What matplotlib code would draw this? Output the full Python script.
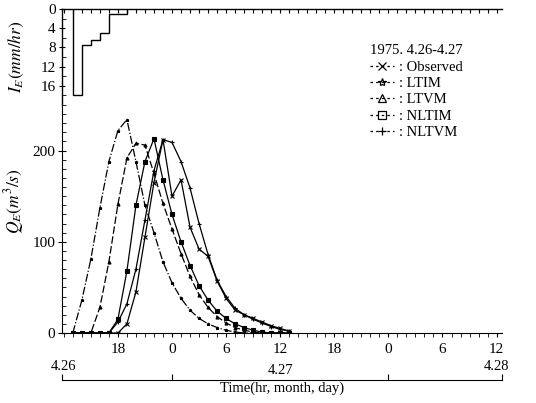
import matplotlib
matplotlib.use("Agg")
import matplotlib.pyplot as plt
from matplotlib.lines import Line2D
from matplotlib.ticker import MultipleLocator, FixedLocator

plt.rcParams['font.family'] = ['Liberation Serif', 'DejaVu Serif']
plt.rcParams['mathtext.fontset'] = 'stix'

# ---------------- data ----------------
# rainfall excess hyetograph (hours counted from 4.26 00:00)
rain_edges = [13, 14, 15, 16, 17, 19]
rain_values = [18, 7.5, 6.5, 5, 1]

hours = [13, 14, 15, 16, 17, 18, 19, 20, 21, 22, 23, 24, 25, 26, 27, 28,
         29, 30, 31, 32, 33, 34, 35, 36, 37]
q_observed = [0, 0, 0, 0, 0, 0, 10, 45, 105, 165, 212, 150, 168, 116, 92, 84,
              57, 38, 25, 20, 16, 12, 8, 5, 2]
q_ltim = [0, 36, 81, 137, 188, 222, 234, 188, 140, 110, 78, 55, 38, 25, 16, 10,
          6, 3, 1, 0, 0, 0, 0, 0, 0]
q_ltvm = [0, 0, 0, 28, 78, 141, 192, 208, 206, 175, 142, 114, 87, 62, 42, 28,
          18, 11, 6, 3, 1, 0, 0, 0, 0]
q_nltim = [0, 0, 0, 0, 0, 15, 68, 140, 188, 213, 168, 130, 100, 74, 52, 36,
           24, 16, 10, 6, 3, 1, 0, 0, 0]
q_nltvm = [0, 0, 0, 0, 0, 12, 32, 70, 124, 178, 212, 209, 188, 159, 120, 86,
           58, 40, 27, 20, 15, 11, 7, 4, 2]

xtick_pos = [18, 24, 30, 36, 42, 48, 54, 60]
xtick_labels = ['18', '0', '6', '12', '18', '0', '6', '12']
date_labels = ['4.26', '4.27', '4.28']
date_pos = [12, 36, 60]
legend_title = '1975. 4.26-4.27'
series_names = ['Observed', 'LTIM', 'LTVM', 'NLTIM', 'NLTVM']

# ---------------- figure ----------------
W, H = 536, 403
fig = plt.figure(figsize=(W / 100, H / 100), dpi=100)

def fx(px):
    return px / W

def fy(py):
    return 1 - py / H

L, R = 62, 502
xlim = (11.8, 60.6)

ax_r = fig.add_axes([fx(L), fy(105), fx(R - L), fy(9) - fy(105)])
ax_q = fig.add_axes([fx(L), fy(333), fx(R - L), fy(105) - fy(333)])
ax_d = fig.add_axes([fx(L), fy(380), fx(R - L), fy(355) - fy(380)])

lw = 0.9
# rainfall
ax_r.stairs(rain_values, rain_edges, baseline=0, color='k', lw=1.0)
ax_r.set_xlim(*xlim)
ax_r.set_ylim(20, 0)
for s in ['bottom', 'right']:
    ax_r.spines[s].set_visible(False)
ax_r.spines['top'].set_linewidth(1.0)
ax_r.spines['left'].set_linewidth(1.0)
ax_r.xaxis.set_ticks_position('top')
ax_r.xaxis.set_major_locator(MultipleLocator(1))
ax_r.tick_params(axis='x', which='both', direction='in', length=3, labeltop=False, labelbottom=False)
ax_r.set_yticks([0, 4, 8, 12, 16])
ax_r.yaxis.set_minor_locator(MultipleLocator(2))
ax_r.tick_params(axis='y', which='major', direction='inout', length=5, labelsize=11, pad=2)
ax_r.tick_params(axis='y', which='minor', direction='in', length=3)
ax_r.set_ylabel(r'$I_E(mm/hr)$', fontsize=12.5)
ax_r.yaxis.set_label_coords(-0.082, 0.5)

# discharge
styles = [
    (q_observed, 'x', '-'),
    (q_ltim, '*', '-.'),
    (q_ltvm, '^', (0, (6, 2))),
    (q_nltim, 's', '-'),
    (q_nltvm, '+', '-'),
]
for vals, mk, ls in styles:
    ax_q.plot(hours, vals, color='k', lw=lw, ls=ls, marker=mk, ms=2.2,
              mfc='k', mew=0.8)
ax_q.set_xlim(*xlim)
ax_q.set_ylim(0, 250)
for s in ['top', 'right']:
    ax_q.spines[s].set_visible(False)
ax_q.set_yticks([0, 100, 200])
ax_q.yaxis.set_minor_locator(MultipleLocator(10))
ax_q.tick_params(axis='y', which='major', direction='inout', length=6, labelsize=11, pad=2)
ax_q.tick_params(axis='y', which='minor', direction='in', length=3)
ax_q.set_xticks(xtick_pos)
ax_q.set_xticklabels(xtick_labels)
ax_q.xaxis.set_minor_locator(MultipleLocator(1))
ax_q.tick_params(axis='x', which='both', direction='out', length=3, labelsize=11, pad=4)
ax_q.set_ylabel(r'$Q_E(m^3/s)$', fontsize=12.5)
ax_q.yaxis.set_label_coords(-0.082, 0.58)

# date bracket axis
ax_d.set_xlim(*xlim)
ax_d.set_ylim(0, 1)
for s in ['top', 'right', 'left']:
    ax_d.spines[s].set_visible(False)
ax_d.patch.set_visible(False)
ax_d.set_yticks([])
ax_d.xaxis.set_major_locator(FixedLocator([xlim[0], 24, 48, xlim[1]]))
ax_d.tick_params(axis='x', direction='in', length=4, labelbottom=False)
for lab, p, yy in zip(date_labels, date_pos, [0.56, 0.4, 0.56]):
    ax_d.text(p, yy, lab, ha='center', va='center', fontsize=10.5)
ax_d.set_xlabel('Time(hr, month, day)', fontsize=10.5, labelpad=1)

# legend
handles = [Line2D([], [], color='k', lw=0.9, ls=(0, (2, 2.5)), marker=mk,
                  ms=6, mfc='none', mew=0.9) for _, mk, _ in styles]
labels = [': ' + n for n in series_names]
leg = fig.legend(handles, labels, loc='upper left', bbox_to_anchor=(fx(360), fy(34)),
                 frameon=False, title=legend_title, alignment='left',
                 handlelength=1.6, handletextpad=0.4, labelspacing=0.22,
                 fontsize=10.5, title_fontsize=10.5, borderpad=0.2)

fig.savefig('out.png', dpi=100)
